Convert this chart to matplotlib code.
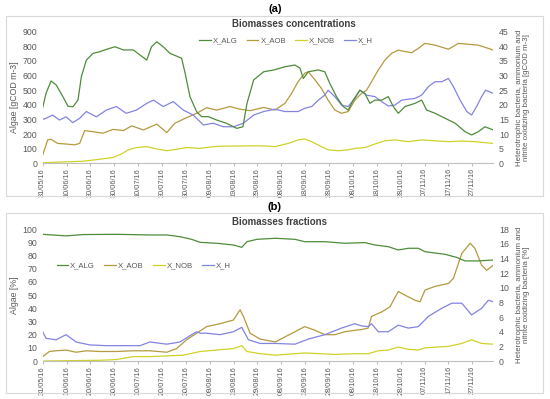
import matplotlib
matplotlib.use("Agg")
import matplotlib.pyplot as plt
import matplotlib.dates as mdates
from matplotlib.patches import FancyBboxPatch
import numpy as np
import pandas as pd

plt.rcParams['font.family'] = ['Liberation Sans', 'DejaVu Sans']

start = pd.Timestamp('2016-05-31')
end_day = 188.8

# ---- panel (a): concentrations ----
# algae on left axis [gCOD m-3]
a_alg_d = [0, 1.4, 3.5, 5.7, 8.5, 10.6, 12.7, 14.8, 16.2, 18.3, 21.1, 23.9, 26.7, 30.3, 33.8, 38, 40.8,
           43.6, 45.6, 47.8, 50.5, 53.3, 56.1, 58.2, 59.7, 61.7, 64.5, 66.6, 69.4, 72.9, 77.1, 81.3, 83.9,
           85.6, 88.4, 92.6, 96.8, 101.5, 105.7, 107.8, 109.2, 111.3, 115.5, 118.2, 120.3, 123.1, 125.9,
           128, 130.1, 132.9, 135, 137.1, 139.2, 142, 144.8, 146.9, 149, 151.8, 156, 158.8, 160.9, 164.4,
           168.6, 172.8, 177, 179.7, 182.5, 185.3, 188.8]
a_alg = [380, 478, 563, 535, 455, 390, 387, 433, 592, 706, 752, 763, 779, 797, 775, 775, 740,
         706, 797, 831, 797, 752, 733, 718, 615, 456, 353, 319, 319, 296, 273, 239, 250,
         410, 570, 626, 638, 660, 672, 650, 580, 626, 638, 626, 546, 456, 388,
         364, 432, 500, 478, 410, 432, 432, 456, 388, 342, 388, 410, 432, 364, 342,
         308, 274, 216, 194, 216, 250, 228]

# bacteria on right axis [gCOD m-3]
a_aob_d = [0, 2.1, 3.5, 6.3, 9.8, 13.3, 15.5, 17.6, 21.1, 25.3, 29.5, 33.8, 37.3, 42.2, 47.8, 52, 55.4,
           59.7, 64.5, 68.7, 72.9, 78.5, 82.7, 86.9, 92.6, 97.3, 101.5, 104.3, 107, 109.8, 111.3, 114.1,
           116.8, 119.6, 122.4, 125.2, 128, 130.8, 133.6, 135.7, 137.8, 140.6, 143.4, 146.2, 149, 151.8,
           154.6, 157.4, 160.2, 164.4, 170, 174.2, 178.3, 182.5, 186.7, 188.8]
a_aob = [2.8, 8.0, 8.2, 6.8, 6.6, 6.3, 6.8, 11.2, 10.8, 10.3, 11.6, 11.2, 12.8, 11.4, 13.4, 10.5, 13.7,
         15.4, 17.1, 19.0, 18.2, 19.4, 18.5, 18.0, 19.1, 18.2, 20.5, 23.9, 27.9, 30.8, 31.3, 28.5,
         25.6, 21.6, 18.2, 17.1, 17.7, 21.6, 23.9, 25.0, 27.9, 31.9, 35.3, 37.6, 38.7, 38.2,
         37.8, 39.3, 41.0, 40.4, 39.0, 41.0, 40.7, 40.4, 39.3, 38.7]

a_nob_d = [0, 16.9, 23.9, 29.5, 33, 35.9, 39.3, 43.6, 47.8, 52, 56.1, 60.3, 65.9, 71.5, 77.1, 82.7, 88.4,
           93.9, 97.3, 102.9, 107, 109.8, 112.7, 116.8, 119.6, 123.8, 128, 130.8, 135, 139.2, 143.4,
           147.6, 153.2, 158.8, 164.4, 170, 175.6, 181.1, 188.8]
a_nob = [0.2, 0.7, 1.4, 2.0, 3.2, 4.6, 5.4, 5.7, 4.9, 4.3, 4.8, 5.4, 5.1, 5.7, 5.9, 5.9, 6.0,
         5.9, 5.7, 6.8, 8.0, 8.3, 7.4, 5.7, 4.6, 4.3, 4.6, 5.1, 5.4, 6.6, 7.7,
         8.0, 7.4, 8.0, 7.7, 7.4, 7.6, 7.4, 6.8]

a_h_d = [0, 1.4, 4.2, 7, 9.8, 12.6, 15.5, 18.3, 22.5, 26.7, 30.9, 35, 39.3, 43.6, 46.4, 50.5, 54.7, 58.9,
         63.1, 67.3, 71.5, 75.7, 79.9, 84.1, 88.4, 92.6, 97.3, 101.5, 107, 109.8, 112.7, 115.5, 118.2,
         119.6, 122.4, 125.2, 128, 130.8, 132.9, 135.7, 139.2, 142, 144.8, 147.6, 150.4, 153.2, 156,
         158.8, 161.6, 164.4, 167.2, 170, 172.1, 174.9, 177.7, 179.7, 181.8, 183.9, 185.6, 188.8]
a_h = [15.0, 15.4, 16.5, 14.8, 15.9, 13.9, 15.4, 17.7, 15.9, 18.2, 19.4, 17.1, 18.2, 20.5, 21.6, 19.4,
       21.1, 18.2, 16.5, 13.1, 13.7, 12.5, 12.5, 13.7, 16.5, 17.7, 18.5, 17.7, 17.7, 18.8, 19.4, 21.6,
       23.3, 25.0, 22.8, 19.9, 19.4, 22.2, 25.0, 23.3, 22.8, 21.1, 19.6, 19.9, 21.6, 21.9, 22.2,
       23.3, 26.2, 27.9, 27.9, 29.0, 26.2, 21.6, 17.7, 16.5, 19.4, 22.8, 25.0, 23.9]

# ---- panel (b): fractions ----
b_alg_d = [0, 9.8, 16.9, 30.9, 44.9, 52, 57.5, 62.4, 66, 72.9, 79.9, 83.4, 85.6, 89.8, 97.5, 105.7,
           109.8, 118.2, 126.6, 135, 139.2, 144.8, 149, 153.2, 157.4, 160.2, 168.6, 173.4, 177, 182.5, 188.8]
b_alg = [96.2, 95.0, 96.0, 96.2, 95.7, 95.7, 94.4, 92.4, 90.1, 89.4, 88.1, 86.3, 90.6, 92.4, 93.2, 92.4,
         90.6, 90.6, 89.4, 89.9, 88.1, 86.8, 84.3, 85.6, 85.6, 83.0, 81.0, 78.7, 76.0, 76.0, 76.7]

b_aob_d = [0, 2.8, 5.6, 9.8, 14, 18.3, 23.9, 30.9, 37.9, 44.9, 52, 56.1, 60.3, 64.5, 68.7, 74.3, 79.9,
           82.7, 84.1, 86.9, 91.1, 97.5, 101.5, 105.7, 109.8, 114.1, 118.2, 122.4, 126.6, 130.8, 133.6,
           136.4, 137.8, 142, 145.5, 149, 151.8, 156, 158.1, 160.2, 164.4, 170, 172.1, 175.6, 179.1,
           181.1, 183.9, 186, 188.8]
b_aob = [0.6, 1.3, 1.4, 1.5, 1.2, 1.4, 1.3, 1.3, 1.4, 1.4, 1.2, 1.7, 2.9, 3.8, 4.7, 5.1, 5.6,
         7.0, 6.1, 3.8, 3.0, 2.6, 3.3, 4.0, 4.7, 4.2, 3.6, 3.6, 4.0, 4.2, 4.3,
         4.5, 6.1, 6.7, 7.4, 9.5, 9.0, 8.3, 8.1, 9.7, 10.2, 10.6, 11.3, 14.7, 16.1,
         15.4, 13.1, 12.4, 13.1]

b_nob_d = [0, 23.9, 30.9, 37.9, 44.9, 52, 59, 66, 72.9, 79.9, 83.4, 85.6, 91.1, 97.5, 109.8, 122.4,
           130.8, 136.4, 140.6, 144.8, 149, 153.2, 157.4, 160.2, 170, 175.6, 179.7, 183.9, 188.8]
b_nob = [0.0, 0.1, 0.2, 0.6, 0.6, 0.7, 0.8, 1.3, 1.5, 1.7, 2.1, 1.3, 1.0, 0.8, 1.1, 0.9,
         1.0, 1.0, 1.4, 1.5, 1.9, 1.6, 1.5, 1.8, 2.0, 2.4, 2.9, 2.4, 2.3]

b_h_d = [0, 1.4, 5.6, 9.8, 14, 19.7, 26.7, 33.8, 40.8, 44.9, 52, 57.5, 62.4, 64.5, 66, 68.7, 74.3, 79.9,
         83.4, 86.2, 91.1, 97.5, 105.7, 111.3, 118.2, 125.2, 130.8, 133.6, 136.4, 137.8, 140.6, 144.8,
         149, 153.2, 157.4, 161.6, 167.2, 171.4, 175.6, 179.7, 183.9, 186.7, 188.8]
b_h = [4.0, 3.1, 2.9, 3.6, 2.6, 2.2, 2.1, 2.1, 2.1, 2.6, 2.3, 2.6, 3.6, 4.0, 3.8, 3.8, 3.6, 4.0,
       4.6, 2.9, 2.4, 2.4, 2.3, 3.0, 3.6, 4.5, 5.1, 4.8, 4.7, 5.1, 4.0, 4.0,
       4.9, 4.5, 4.7, 6.1, 7.2, 7.9, 7.9, 6.3, 7.2, 8.3, 8.1]

names = ['X_ALG', 'X_AOB', 'X_NOB', 'X_H']
colors = ['#4e8c3a', '#b39a3e', '#d0d22a', '#8383e2']
txt = '#595959'


def dates(d):
    return start + pd.to_timedelta(np.array(d), unit='D')


fig = plt.figure(figsize=(5.5, 3.99), dpi=100)

# panel frames
for y0 in [0.508, 0.015]:
    fig.patches.append(FancyBboxPatch((0.01, y0), 0.978, 0.452, boxstyle='square,pad=0',
                                      transform=fig.transFigure, fill=False,
                                      edgecolor='#d9d9d9', linewidth=0.8))


def panel(rect, left_data, right_data, ylim1, step1, ylim2, step2, title, tag, tag_y,
          ylab1, ylab2, leg_pos):
    ax = fig.add_axes(rect)
    ax2 = ax.twinx()
    ax.set_zorder(ax2.get_zorder() + 1)
    ax.patch.set_visible(False)
    d, v = left_data
    h_alg, = ax.plot(dates(d), v, color=colors[0], lw=0.9)
    handles = [h_alg]
    for (d, v), c in zip(right_data, colors[1:]):
        h, = ax2.plot(dates(d), v, color=c, lw=0.9)
        handles.append(h)
    ax.set_ylim(0, ylim1)
    ax.set_yticks(np.arange(0, ylim1 + 1, step1))
    ax2.set_ylim(0, ylim2)
    ax2.set_yticks(np.arange(0, ylim2 + 1, step2))
    ax.set_xlim(start, start + pd.Timedelta(days=end_day))
    ax.set_xticks(dates(np.arange(0, 181, 10)))
    ax.xaxis.set_major_formatter(mdates.DateFormatter('%d/%m/%y'))
    for a in (ax, ax2):
        for s in ['top', 'left', 'right']:
            a.spines[s].set_visible(False)
        a.spines['bottom'].set_color('#bfbfbf')
        a.tick_params(axis='y', length=0, labelsize=6.3, colors=txt, pad=4)
    ax2.spines['bottom'].set_visible(False)
    ax.tick_params(axis='x', labelsize=5.3, colors=txt, rotation=90, length=2, color='#bfbfbf', pad=1.5)
    for lab in ax.get_xticklabels():
        lab.set_va('top')
    top = rect[1] + rect[3]
    fig.text(0.422, top + 0.019, title, fontsize=7, fontweight='bold', color='#404040',
             ha='left', va='center')
    fig.text(0.5, tag_y, tag, fontsize=8, fontweight='bold', color='black', ha='center', va='center')
    fig.text(0.027, rect[1] + rect[3] * 0.5, ylab1, rotation=90, fontsize=6.3, color=txt,
             ha='center', va='center')
    fig.text(0.951, rect[1] + rect[3] * 0.5, ylab2, rotation=90, fontsize=5.7, color=txt,
             ha='center', va='center', linespacing=1.15)
    fig.legend(handles, names, loc='center', bbox_to_anchor=leg_pos, ncol=4, frameon=False,
               fontsize=5.6, labelcolor=txt, handlelength=1.5, handletextpad=0.25, columnspacing=1.2)
    return ax


panel([0.0776, 0.5907, 0.8193, 0.3299],
      (a_alg_d, a_alg),
      [(a_aob_d, a_aob), (a_nob_d, a_nob), (a_h_d, a_h)],
      900, 100, 45, 5, 'Biomasses concentrations', '(a)', 0.978,
      'Algae [gCOD m-3]',
      'Heterotrophic bacteria, ammonium and\nnitrite oxidizing bacteria [gCOD m-3]',
      (0.52, 0.898))

panel([0.0776, 0.0952, 0.8193, 0.3301],
      (b_alg_d, b_alg),
      [(b_aob_d, b_aob), (b_nob_d, b_nob), (b_h_d, b_h)],
      100, 10, 18, 2, 'Biomasses fractions', '(b)', 0.482,
      'Algae [%]',
      'Heterotrophic bacteria, ammonium and\nnitrite oxidizing bacteria [%]',
      (0.261, 0.334))

fig.savefig('out.png', dpi=100)
